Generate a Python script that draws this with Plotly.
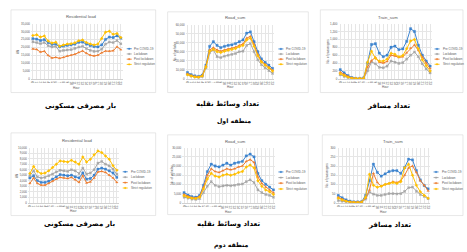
import plotly.graph_objects as go

W, H = 467, 252

hours = list(range(24))
hour_labels = [str(h) for h in hours]
series_names = ["Pre COVID-19", "Lockdown", "Post lockdown", "Strict regulation"]

# Region 1 - residential load (kW)
res1_pre = [25500, 25200, 24300, 24800, 23000, 21800, 22000, 20300, 20800, 21200, 21500, 22000,
            23200, 23300, 22000, 21000, 20500, 20200, 21500, 25000, 26500, 26200, 27300, 25800]
res1_lock = [23500, 23000, 22300, 23000, 21000, 20200, 20500, 17500, 18000, 18300, 18500, 19300,
             20200, 20600, 19200, 18000, 17400, 17500, 18800, 22000, 23300, 23000, 24300, 22200]
res1_post = [19000, 18600, 17000, 17500, 14800, 13200, 13600, 13000, 13600, 14500, 15000, 15600,
             16800, 17700, 16200, 15000, 14500, 15000, 16500, 17600, 17500, 17800, 20300, 18500]
res1_strict = [27500, 27900, 26500, 27200, 24000, 22700, 23200, 20700, 21500, 22000, 22300, 22800,
               24200, 24600, 23000, 22000, 21500, 22000, 25500, 29600, 30200, 28200, 28800, 26200]

# Region 1 - road (vehicles)
road1_pre = [7000, 4500, 3200, 2500, 4000, 15000, 36000, 41000, 37000, 34500, 36000, 37000,
             37500, 39000, 41000, 43000, 50500, 52000, 41000, 30000, 22000, 18000, 15000, 11500]
road1_lock = [5000, 3000, 2000, 1500, 2500, 12000, 29000, 32000, 24500, 23500, 25000, 26000,
              27000, 28000, 30000, 30500, 37000, 39000, 30000, 21000, 15500, 12000, 9000, 6000]
road1_post = [5500, 3500, 2500, 2000, 3500, 14000, 32000, 34500, 32000, 30500, 32000, 33000,
              34000, 35000, 37000, 38500, 45000, 47000, 38000, 27000, 19500, 16000, 13000, 9500]
road1_strict = [4500, 3000, 2000, 1800, 3000, 13000, 30500, 32500, 30000, 29000, 30500, 31500,
                32500, 33500, 35500, 37000, 43000, 45000, 36000, 25500, 18500, 15000, 12000, 8500]

# Region 1 - train (passengers)
train1_pre = [230, 150, 80, 30, 10, 10, 20, 400, 870, 890, 650, 560,
              600, 800, 830, 740, 760, 950, 1270, 1200, 850, 600, 450, 320]
train1_lock = [100, 60, 30, 10, 5, 5, 5, 200, 430, 380, 290, 280,
               320, 450, 420, 390, 410, 500, 600, 680, 560, 380, 250, 150]
train1_post = [170, 110, 60, 20, 5, 5, 10, 300, 460, 540, 420, 400,
               440, 600, 580, 540, 560, 660, 780, 860, 720, 550, 400, 260]
train1_strict = [130, 80, 40, 10, 5, 5, 10, 420, 700, 520, 450, 450,
                 500, 650, 620, 560, 590, 760, 960, 1000, 760, 480, 330, 200]

# Region 2 - residential load (kW)
res2_pre = [4500, 4900, 4000, 3700, 3700, 3900, 4300, 4700, 5100, 5000, 4900, 5000,
            4700, 4500, 5400, 4300, 4400, 5000, 6100, 6300, 6100, 5800, 5400, 4600]
res2_lock = [4900, 5800, 4700, 4500, 4600, 4900, 5200, 5600, 5900, 5800, 5700, 6000,
             5800, 5300, 6300, 5200, 5400, 6000, 7200, 7500, 7000, 6700, 6100, 5200]
res2_post = [3500, 4500, 3500, 3200, 3200, 3500, 3900, 4300, 4600, 4500, 4400, 4600,
             4200, 3700, 4900, 3600, 3800, 4500, 5600, 5700, 5500, 5000, 4500, 3700]
res2_strict = [5300, 6600, 5700, 5300, 5400, 5800, 6400, 7000, 7600, 7500, 7400, 7700,
               7400, 7000, 8300, 7400, 7900, 8700, 9400, 9100, 8500, 7900, 6700, 5900]

# Region 2 - road (vehicles)
road2_pre = [5500, 4200, 3300, 3000, 4000, 9500, 17000, 21000, 20000, 19500, 20500, 21500,
             20500, 21500, 22000, 22500, 25500, 26500, 25000, 16000, 12000, 10000, 8500, 7000]
road2_lock = [3000, 2500, 2000, 1800, 2200, 5500, 9000, 11500, 9500, 8800, 9200, 9500,
              9300, 9500, 10000, 10200, 11500, 12500, 11000, 7000, 5500, 4500, 4000, 3000]
road2_post = [4500, 3500, 2800, 2600, 3500, 8500, 15000, 18500, 17000, 16500, 17500, 18500,
              18000, 18500, 19500, 20000, 22500, 23500, 22000, 14000, 10500, 8500, 7000, 5500]
road2_strict = [3800, 3000, 2500, 2300, 3000, 7500, 13000, 16000, 14500, 14000, 15000, 15500,
                15000, 15500, 16500, 17000, 19500, 20500, 19000, 12000, 9000, 7000, 6000, 4500]

# Region 2 - train (passengers)
train2_pre = [40, 27, 16, 9, 5, 5, 6, 40, 120, 210, 165, 145,
              157, 170, 175, 175, 160, 192, 237, 233, 175, 124, 94, 76]
train2_lock = [12, 8, 5, 3, 2, 2, 3, 20, 58, 47, 40, 40,
               45, 50, 50, 48, 50, 62, 82, 85, 62, 45, 35, 22]
train2_post = [30, 20, 10, 5, 3, 3, 5, 25, 70, 160, 110, 90,
               100, 105, 115, 110, 120, 150, 190, 200, 165, 120, 95, 65]
train2_strict = [25, 15, 8, 4, 2, 2, 3, 30, 155, 95, 85, 90,
                 100, 105, 110, 105, 115, 190, 210, 150, 95, 60, 40, 25]

colors = ["#3D84CF", "#A5A5A5", "#ED7D31", "#FFC000"]
symbols = ["square", "x", "triangle-up", "diamond"]

FONT = "Liberation Sans"
FA_FONT = "DejaVu Sans"
TXT = "#595959"

charts = [
    dict(title="Residential load", ytitle="kW", ymax=35000, dtick=5000,
         data=[res1_pre, res1_lock, res1_post, res1_strict],
         box=(10, 8, 155, 92), plot=(30, 22, 122, 78), title_xy=(80, 15),
         ytitle_x=17, xtitle_y=87.5, leg=(126, 131, [47.5, 52.8, 58.1, 63.4]),
         caption="بار مصرفی مسکونی", cap=(80, 106)),
    dict(title="Road_sum", ytitle="No. of vehicles", ymax=60000, dtick=10000,
         data=[road1_pre, road1_lock, road1_post, road1_strict],
         box=(167, 10, 308, 92), plot=(185, 23, 274, 78), title_xy=(235, 16),
         ytitle_x=174, xtitle_y=86.5, leg=(278, 284, [47.7, 52.9, 58.1, 63.3]),
         caption="تعداد وسائط نقلیه", cap=(227, 104)),
    dict(title="Train_sum", ytitle="No. of passengers", ymax=1400, dtick=200,
         data=[train1_pre, train1_lock, train1_post, train1_strict],
         box=(320, 8, 463, 92), plot=(338, 22, 432, 78), title_xy=(388, 15.5),
         ytitle_x=328, xtitle_y=86.5, leg=(434.5, 440.5, [47.7, 52.9, 58.1, 63.3]),
         caption="تعداد مسافر", cap=(388, 105.5)),
    dict(title="Residential load", ytitle="kW", ymax=10000, dtick=1000,
         data=[res2_pre, res2_lock, res2_post, res2_strict],
         box=(10, 133, 155, 217), plot=(27, 148, 118, 204), title_xy=(76, 140.5),
         ytitle_x=16, xtitle_y=212.5, leg=(122, 128, [172.5, 178, 183.5, 189]),
         caption="بار مصرفی مسکونی", cap=(78.5, 226)),
    dict(title="Road_sum", ytitle="No. of vehicles", ymax=30000, dtick=5000,
         data=[road2_pre, road2_lock, road2_post, road2_strict],
         box=(167, 135, 308, 216), plot=(181.5, 148, 275, 204), title_xy=(235, 141.5),
         ytitle_x=172, xtitle_y=213, leg=(278, 284, [172.7, 178.4, 184.1, 190]),
         caption="تعداد وسائط نقلیه", cap=(227.5, 225.5)),
    dict(title="Train_sum", ytitle="No. of passengers", ymax=300, dtick=50,
         data=[train2_pre, train2_lock, train2_post, train2_strict],
         box=(322, 135, 463, 217), plot=(336, 148, 430, 204), title_xy=(393, 141.5),
         ytitle_x=327, xtitle_y=213, leg=(433.5, 439.5, [172.7, 178.4, 184.1, 190]),
         caption="تعداد مسافر", cap=(389, 226.5)),
]


def px(x):
    return x / W


def py(y):
    return 1 - y / H


def note(text, x, y, size, color=TXT, family=FONT, xanchor="center", angle=0):
    return dict(text=text, x=px(x), y=py(y), xref="paper", yref="paper",
                xanchor=xanchor, yanchor="middle", showarrow=False, textangle=angle,
                font=dict(size=size, color=color, family=family))


fig = go.Figure()
shapes = []
annotations = []
layout_axes = {}

for i, ch in enumerate(charts):
    n = i + 1
    bx0, by0, bx1, by1 = ch["box"]
    shapes.append(dict(type="rect", xref="paper", yref="paper",
                       x0=px(bx0), x1=px(bx1), y0=py(by1), y1=py(by0),
                       line=dict(color="#D9D9D9", width=0.6), fillcolor="white", layer="below"))
    for name, vals, col, sym in zip(series_names, ch["data"], colors, symbols):
        fig.add_trace(go.Scatter(
            x=hours, y=vals, name=name, mode="lines+markers",
            line=dict(color=col, width=1.0),
            marker=dict(size=2.3, symbol=sym, color=col, line=dict(width=0.3, color=col)),
            xaxis=f"x{n}", yaxis=f"y{n}", showlegend=False))
    x0, y0, x1, y1 = ch["plot"]
    layout_axes[f"xaxis{n}"] = dict(
        domain=[px(x0), px(x1)], anchor=f"y{n}", range=[-0.5, 23.5],
        tickmode="array", tickvals=hours, ticktext=hour_labels,
        tickfont=dict(size=2.9, color=TXT, family=FONT), ticks="",
        showgrid=True, gridcolor="#E6E6E6", gridwidth=0.4,
        showline=True, linecolor="#D0D0D0", linewidth=0.5, zeroline=False)
    layout_axes[f"yaxis{n}"] = dict(
        domain=[py(y1), py(y0)], anchor=f"x{n}", range=[0, ch["ymax"]],
        dtick=ch["dtick"], tickformat=",", ticks="",
        tickfont=dict(size=2.9, color=TXT, family=FONT),
        showgrid=True, gridcolor="#E6E6E6", gridwidth=0.4,
        showline=False, zeroline=False)
    tx, ty = ch["title_xy"]
    annotations.append(note(ch["title"], tx, ty, 4.2))
    annotations.append(note(ch["ytitle"], ch["ytitle_x"], (y0 + y1) / 2, 3, angle=-90))
    annotations.append(note("Hour", (x0 + x1) / 2, ch["xtitle_y"], 3))
    lx0, ltx, rows = ch["leg"]
    for name, col, ry in zip(series_names, colors, rows):
        shapes.append(dict(type="line", xref="paper", yref="paper",
                           x0=px(lx0), x1=px(lx0 + 5), y0=py(ry), y1=py(ry),
                           line=dict(color=col, width=0.9)))
        shapes.append(dict(type="rect", xref="paper", yref="paper",
                           x0=px(lx0 + 1.8), x1=px(lx0 + 3.2), y0=py(ry + 0.7), y1=py(ry - 0.7),
                           line=dict(color=col, width=0.3), fillcolor=col))
        annotations.append(note(name, ltx, ry, 3, xanchor="left"))
    cx, cy = ch["cap"]
    annotations.append(note("<b>" + ch["caption"] + "</b>", cx, cy, 7, color="black", family=FA_FONT))

annotations.append(note("<b>منطقه اول</b>", 233, 121, 6.2, color="black", family=FA_FONT))
annotations.append(note("<b>منطقه دوم</b>", 230.5, 246.5, 6.2, color="black", family=FA_FONT))

fig.update_layout(
    width=W, height=H, margin=dict(l=0, r=0, t=0, b=0),
    paper_bgcolor="white", plot_bgcolor="white",
    shapes=shapes, annotations=annotations, showlegend=False,
    **layout_axes)

fig.write_html("out.html", config={"displayModeBar": False},
               post_script="document.body.style.margin='0';document.body.style.overflow='hidden';")
